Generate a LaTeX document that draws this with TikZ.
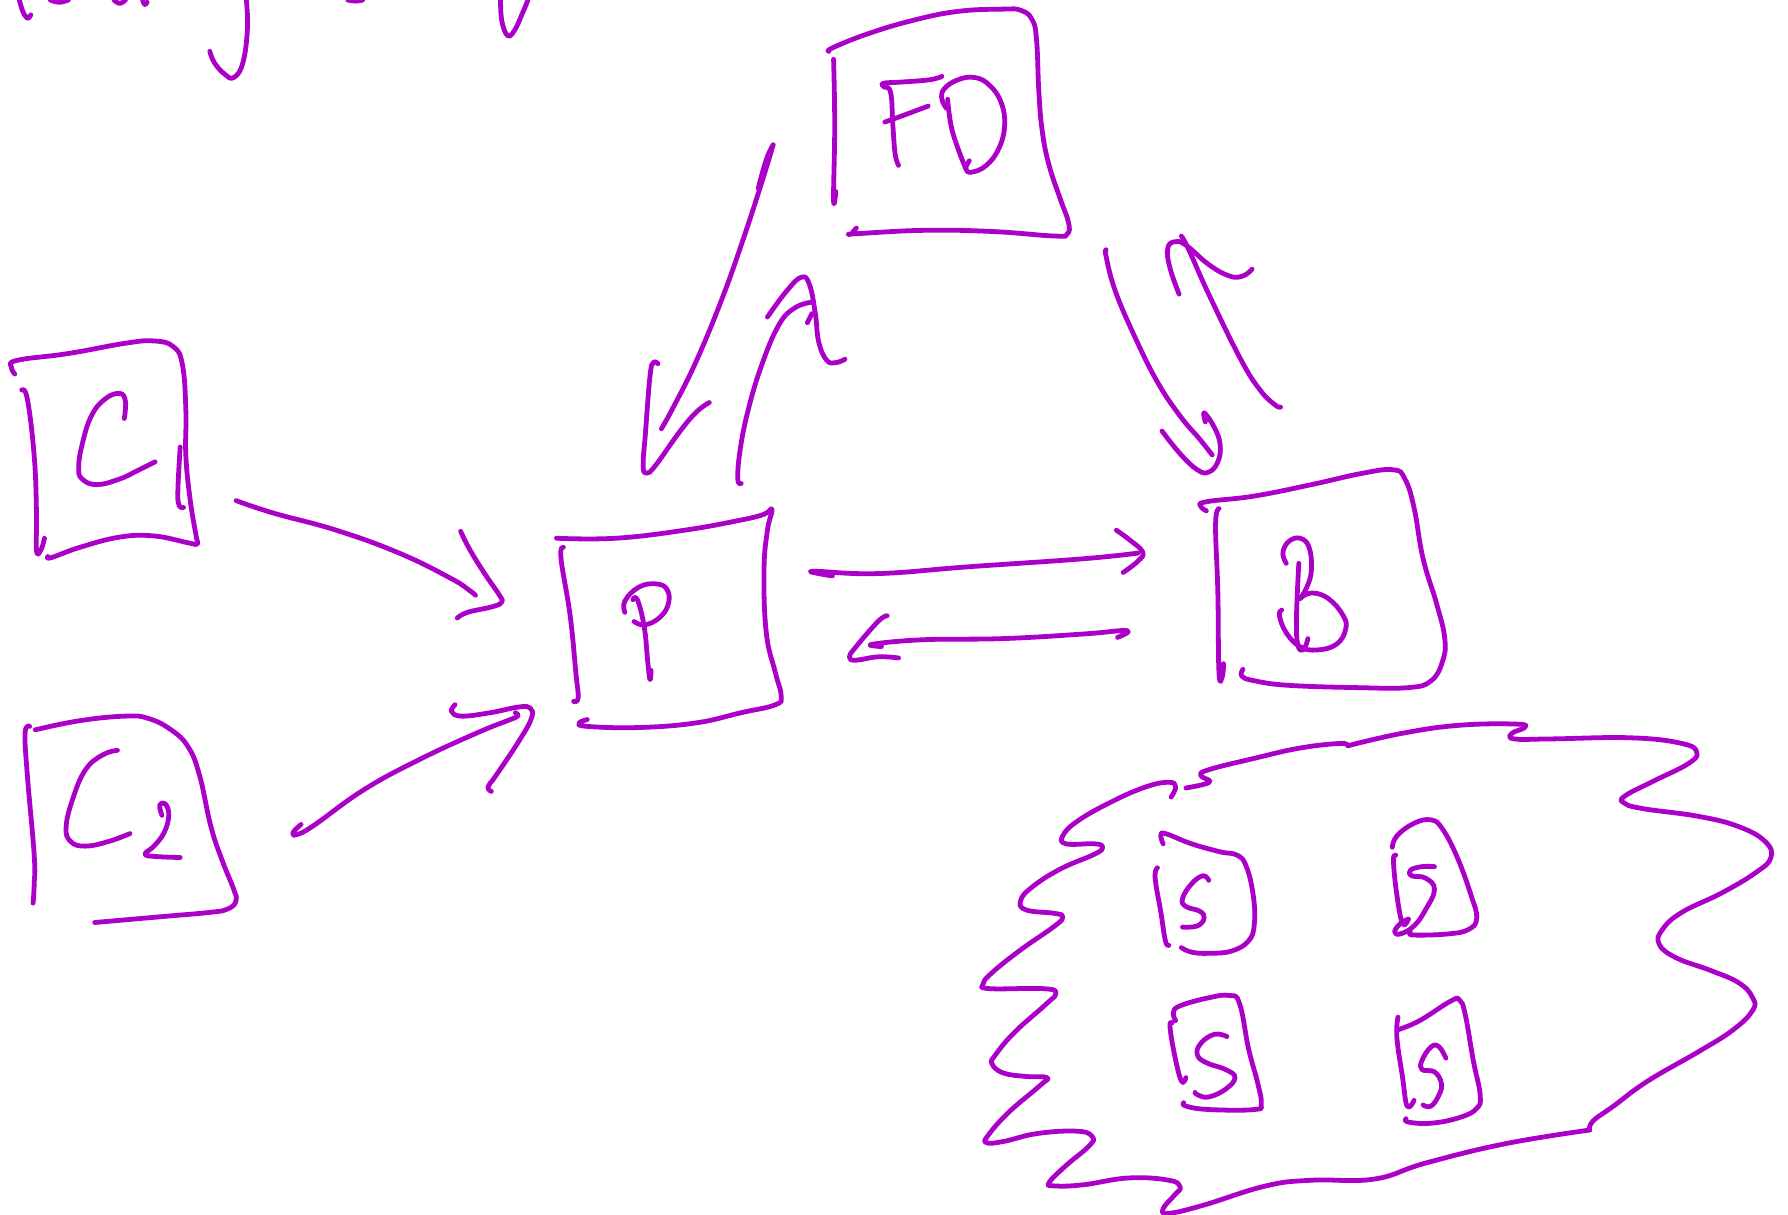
\documentclass[tikz,border=0pt]{standalone}
\definecolor{inkpurple}{RGB}{170,0,200}
\tikzset{ink/.style={draw=inkpurple,line width=2.1pt,line cap=round,line join=round}}
\newcommand{\hs}[1]{\draw[ink] plot[smooth,tension=0.72] coordinates {#1};}
\begin{document}
\begin{tikzpicture}[x=0.5pt,y=-0.5pt]
\useasboundingbox (0,0) rectangle (1568,1065.5);
\clip (0,0) rectangle (1568,1065.5);
% top fragments
\hs{(17,0)(20,10)(24,16)(27,13)}
\hs{(44,0)(52,2)(60,0)}
\hs{(100,0)(105,3)(110,0)}
\hs{(125,0)(127,4)(129,2)}
\hs{(305,0)(312,1)(318,0)}
\hs{(216,0)(217,25)(213,55)(205,68)(197,65)(188,55)(184,45)}
\hs{(439,0)(440,18)(445,31)(451,27)(458,12)(463,0)}
% FD box
\hs{(727,45)(730,42)(760,30)(800,18)(840,10)(880,8)(895,9)(905,17)(909,35)(911,80)(914,115)(920,145)(930,175)(937,195)(936,205)(925,207)(870,203)(810,202)(750,205)(747,205)(751,200)}
\hs{(731,52)(732,110)(731,175)(733,168)}
\hs{(826,67)(815,70)(790,72)(775,73)(775,76)(781,81)(783,110)(785,135)(788,145)}
\hs{(776,107)(790,102)(814,93)}
\hs{(830,95)(826,87)(828,78)(840,70)(855,68)(868,75)(878,90)(881,110)(876,130)(865,145)(852,151)(847,148)(850,141)}
\hs{(831,87)(834,110)(840,130)(847,148)}
% FD -> P
\hs{(678,127)(672,140)(665,165)}
\hs{(678,127)(668,160)(650,215)(632,265)(610,318)(590,358)(580,376)}
\hs{(577,319)(573,318)(570,330)(566,380)(564,408)(567,415)(575,408)(595,380)(610,362)(622,353)}
% P -> FD
\hs{(650,424)(647,420)(649,395)(656,360)(668,320)(683,285)(697,270)(712,265)}
\hs{(673,278)(690,255)(703,243)(710,250)(715,275)(718,300)(725,316)(733,318)(741,315)}
\hs{(708,283)(712,275)}
% FD <-> B
\hs{(970,219)(970,225)(978,255)(995,295)(1015,335)(1035,365)(1052,385)(1063,399)}
\hs{(1019,378)(1035,398)(1050,412)(1060,414)(1068,405)(1070,390)(1065,375)(1056,362)(1057,370)}
\hs{(1123,357)(1118,355)(1105,342)(1088,315)(1060,258)(1043,220)(1036,207)}
\hs{(1034,258)(1026,235)(1024,218)(1030,212)(1040,215)(1060,232)(1078,242)(1090,242)(1098,236)}
% B box
\hs{(1058,448)(1053,444)(1058,440)(1100,435)(1150,425)(1195,415)(1222,412)(1232,420)(1240,445)(1248,490)(1260,530)(1267,560)(1265,580)(1255,597)(1235,603)(1190,603)(1130,601)(1100,597)(1089,593)(1090,587)}
\hs{(1069,446)(1066,460)(1068,520)(1069,590)(1072,593)(1073,582)}
\hs{(1128,494)(1125,485)(1130,475)(1140,472)(1148,480)(1150,500)(1146,515)(1140,525)}
\hs{(1139,494)(1137,540)(1138,565)(1143,570)(1147,560)}
\hs{(1140,525)(1150,520)(1165,525)(1178,540)(1180,552)(1172,565)(1155,570)(1140,567)(1128,555)(1122,540)(1124,535)}
% P box
\hs{(488,472)(540,472)(600,465)(650,456)(670,451)(677,447)(673,465)(670,500)(672,555)(680,590)(685,610)(680,618)(650,625)(610,634)(560,638)(515,637)(508,634)(515,631)}
\hs{(494,480)(492,490)(500,540)(505,590)(507,612)(503,615)}
\hs{(548,537)(548,527)(560,515)(575,512)(585,517)(586,530)(578,542)(565,548)(556,545)}
\hs{(555,526)(559,526)(565,550)(568,580)(570,596)(571,588)}
% P <-> B
\hs{(730,505)(718,503)(715,501)(770,503)(850,497)(950,490)(998,485)}
\hs{(979,465)(990,473)(1002,484)(998,492)(985,502)}
\hs{(980,559)(988,553)(950,556)(880,560)(810,561)(765,565)(773,567)}
\hs{(778,540)(770,545)(750,568)(745,576)(750,579)(770,576)(788,577)}
% C box
\hs{(13,328)(10,322)(15,316)(60,310)(110,301)(135,299)(152,304)(160,320)(163,360)(163,400)(167,440)(172,470)(173,477)(165,476)(135,470)(105,471)(70,480)(45,489)(42,488)}
\hs{(19,342)(24,350)(30,400)(32,450)(32,483)(36,482)(39,472)}
\hs{(109,367)(110,352)(105,345)(92,350)(80,365)(72,390)(69,410)(72,420)(85,425)(105,420)(120,413)(136,405)}
\hs{(158,392)(156,430)(157,443)(161,445)}
% C -> P
\hs{(207,439)(240,450)(295,465)(350,485)(395,507)(412,518)(417,522)}
\hs{(404,466)(412,482)(425,503)(438,522)(440,528)(432,532)(410,537)(401,542)}
% C2 box
\hs{(31,640)(70,632)(110,628)(130,630)(150,640)(165,655)(175,680)(185,725)(195,755)(205,780)(207,790)(200,797)(185,800)(140,804)(83,809)}
\hs{(26,637)(22,643)(24,680)(30,750)(30,775)(29,792)}
\hs{(103,658)(90,662)(75,675)(64,700)(58,725)(62,738)(75,742)(95,738)(114,731)}
\hs{(142,715)(140,706)(145,705)(148,715)(144,730)(135,742)(127,749)(135,751)(158,752)}
% C2 -> P
\hs{(264,723)(257,730)(260,732)(275,724)(320,692)(370,665)(420,642)(445,632)(454,628)(452,625)}
\hs{(399,618)(396,624)(405,628)(430,625)(455,620)(465,621)(466,630)(455,650)(435,680)(428,690)(431,694)}
% cloud
\hs{(1027,699)(1031,690)(1025,686)(1005,690)(975,703)(945,720)(932,733)(935,740)(960,740)(967,743)(960,749)(930,762)(905,778)(895,790)(900,798)(925,801)(932,804)(925,812)(895,833)(870,853)(862,863)(868,867)(915,867)(926,871)(918,880)(890,905)(873,925)(870,933)(880,941)(900,944)(918,945)(912,952)(885,975)(867,995)(865,1002)(880,1001)(910,994)(945,992)(958,997)(955,1005)(935,1022)(920,1037)(925,1040)(950,1039)(990,1033)(1025,1035)(1035,1041)(1030,1048)(1020,1060)(1025,1064)(1055,1057)(1110,1040)(1150,1035)(1205,1034)(1250,1020)(1320,1003)(1394,991)}
\hs{(1394,991)(1397,983)(1415,970)(1445,948)(1490,922)(1520,903)(1537,886)(1537,875)(1525,862)(1500,851)(1470,840)(1455,828)(1458,815)(1475,800)(1510,783)(1540,765)(1553,752)(1548,738)(1525,725)(1490,716)(1440,709)(1424,704)(1425,698)(1450,685)(1480,670)(1488,660)(1475,652)(1430,647)(1360,648)(1328,648)(1326,643)(1337,638)(1330,635)(1280,636)(1230,643)(1182,654)}
\hs{(1182,654)(1175,652)(1140,656)(1100,665)(1060,675)(1053,680)(1061,685)(1055,688)(1040,691)}
% S1
\hs{(1020,740)(1018,733)(1022,731)(1045,740)(1070,747)(1085,750)(1093,760)(1099,785)(1100,810)(1095,825)(1080,834)(1060,836)(1045,835)(1036,831)}
\hs{(1015,761)(1013,770)(1018,800)(1022,825)(1025,829)}
\hs{(1060,772)(1055,768)(1045,775)(1037,788)(1040,795)(1052,799)(1056,805)(1050,812)(1037,813)}
% S2
\hs{(1221,743)(1225,733)(1240,722)(1255,719)(1265,727)(1278,752)(1290,785)(1295,805)(1288,815)(1270,819)(1240,820)(1237,818)}
\hs{(1224,750)(1222,755)(1225,785)(1230,810)(1235,806)}
\hs{(1235,806)(1228,810)(1223,817)(1228,819)(1240,812)(1250,798)(1258,780)(1250,770)(1238,768)(1237,763)(1247,760)(1258,760)}
% S3
\hs{(1031,895)(1029,888)(1035,882)(1060,875)(1078,873)(1087,880)(1095,920)(1103,950)(1106,968)(1100,973)(1060,973)(1040,970)(1038,967)}
\hs{(1028,897)(1026,900)(1030,925)(1036,948)(1040,945)}
\hs{(1076,909)(1065,907)(1053,915)(1050,925)(1058,932)(1075,938)(1083,945)(1075,955)(1060,962)(1050,960)(1048,958)}
% S4
\hs{(1226,892)(1225,910)(1230,945)(1234,970)(1240,965)}
\hs{(1226,903)(1245,895)(1272,878)(1280,877)(1285,890)(1292,930)(1298,960)(1295,972)(1280,980)(1255,985)(1235,984)(1233,981)}
\hs{(1268,928)(1262,918)(1255,918)(1247,930)(1247,938)(1258,940)(1264,950)(1262,960)(1255,970)(1248,969)}
\end{tikzpicture}
\end{document}
